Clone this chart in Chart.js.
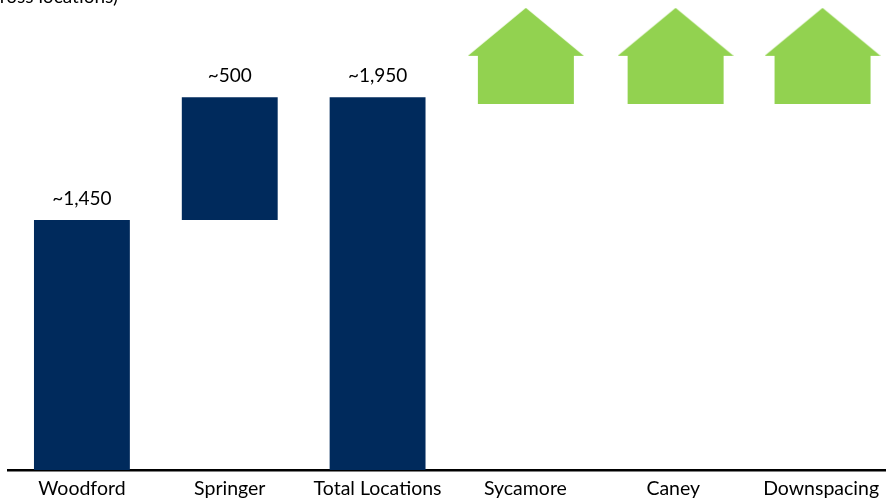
<!DOCTYPE html>
<html>
<head>
<meta charset="utf-8">
<style>
html,body{margin:0;padding:0;background:#fff;width:886px;height:500px;overflow:hidden}
canvas{display:block}
</style>
<script src="https://cdn.jsdelivr.net/npm/chart.js@4"></script>
</head>
<body>
<canvas id="c" width="900" height="500"></canvas>
<script>
const categories = ['Woodford','Springer','Total Locations','Sycamore','Caney','Downspacing'];
const barStart = [0,1307,0];
const barEnd = [1307,1950,1950];
const barLabels = ['~1,450','~500','~1,950'];
const housePosX = [3.003,4.016,5.01];
const housePosY = [2166,2166,2166];
const captionText = '(Gross locations)';
const FONT = 'Lato, Carlito, sans-serif';

function houseIcon(){
  const w=116,h=96,cv=document.createElement('canvas');
  cv.width=w;cv.height=h;
  const g=cv.getContext('2d');
  g.fillStyle='#92D250';
  g.beginPath();
  g.moveTo(58,0);g.lineTo(116,48);g.lineTo(106,48);g.lineTo(106,96);
  g.lineTo(10,96);g.lineTo(10,48);g.lineTo(0,48);g.closePath();g.fill();
  return cv;
}
const labelPlugin={
  id:'labelPlugin',
  afterDatasetsDraw(chart){
    const g=chart.ctx,meta=chart.getDatasetMeta(0);
    g.save();
    g.fillStyle='#000';g.font='19px '+FONT;g.textAlign='center';g.textBaseline='middle';
    meta.data.forEach((b,i)=>g.fillText(barLabels[i],b.x,b.y-21));
    g.textAlign='right';g.textBaseline='alphabetic';
    g.fillText(captionText,118,3);
    g.restore();
  }
};
new Chart(document.getElementById('c'),{
  type:'bar',
  data:{labels:categories,datasets:[
    {type:'bar',data:barStart.map((s,i)=>[s,barEnd[i]]),backgroundColor:'#002A5C',grouped:false,
     barPercentage:0.6486,categoryPercentage:1,borderWidth:0,xAxisID:'x',yAxisID:'y'},
    {type:'scatter',data:housePosX.map((x,i)=>({x,y:housePosY[i]})),pointStyle:houseIcon(),grouped:false,
     pointRadius:1,xAxisID:'xh',yAxisID:'y',showLine:false}
  ]},
  options:{
    responsive:false,animation:false,
    layout:{padding:{left:8,right:4,top:0,bottom:0}},
    plugins:{legend:{display:false},tooltip:{enabled:false},title:{display:false}},
    scales:{
      x:{type:'category',grid:{display:false,drawTicks:false},
         border:{display:true,color:'#000',width:2.5},
         ticks:{color:'#000',font:{family:FONT,size:19.5},padding:7,maxRotation:0,autoSkip:false},
         afterFit(s){s.height=30;s.paddingLeft=0;s.paddingRight=0;}},
      xh:{type:'linear',display:false,min:-0.5,max:5.5,offset:false},
      y:{display:false,min:0,max:2432}
    }
  },
  plugins:[labelPlugin]
});
</script>
</body>
</html>
